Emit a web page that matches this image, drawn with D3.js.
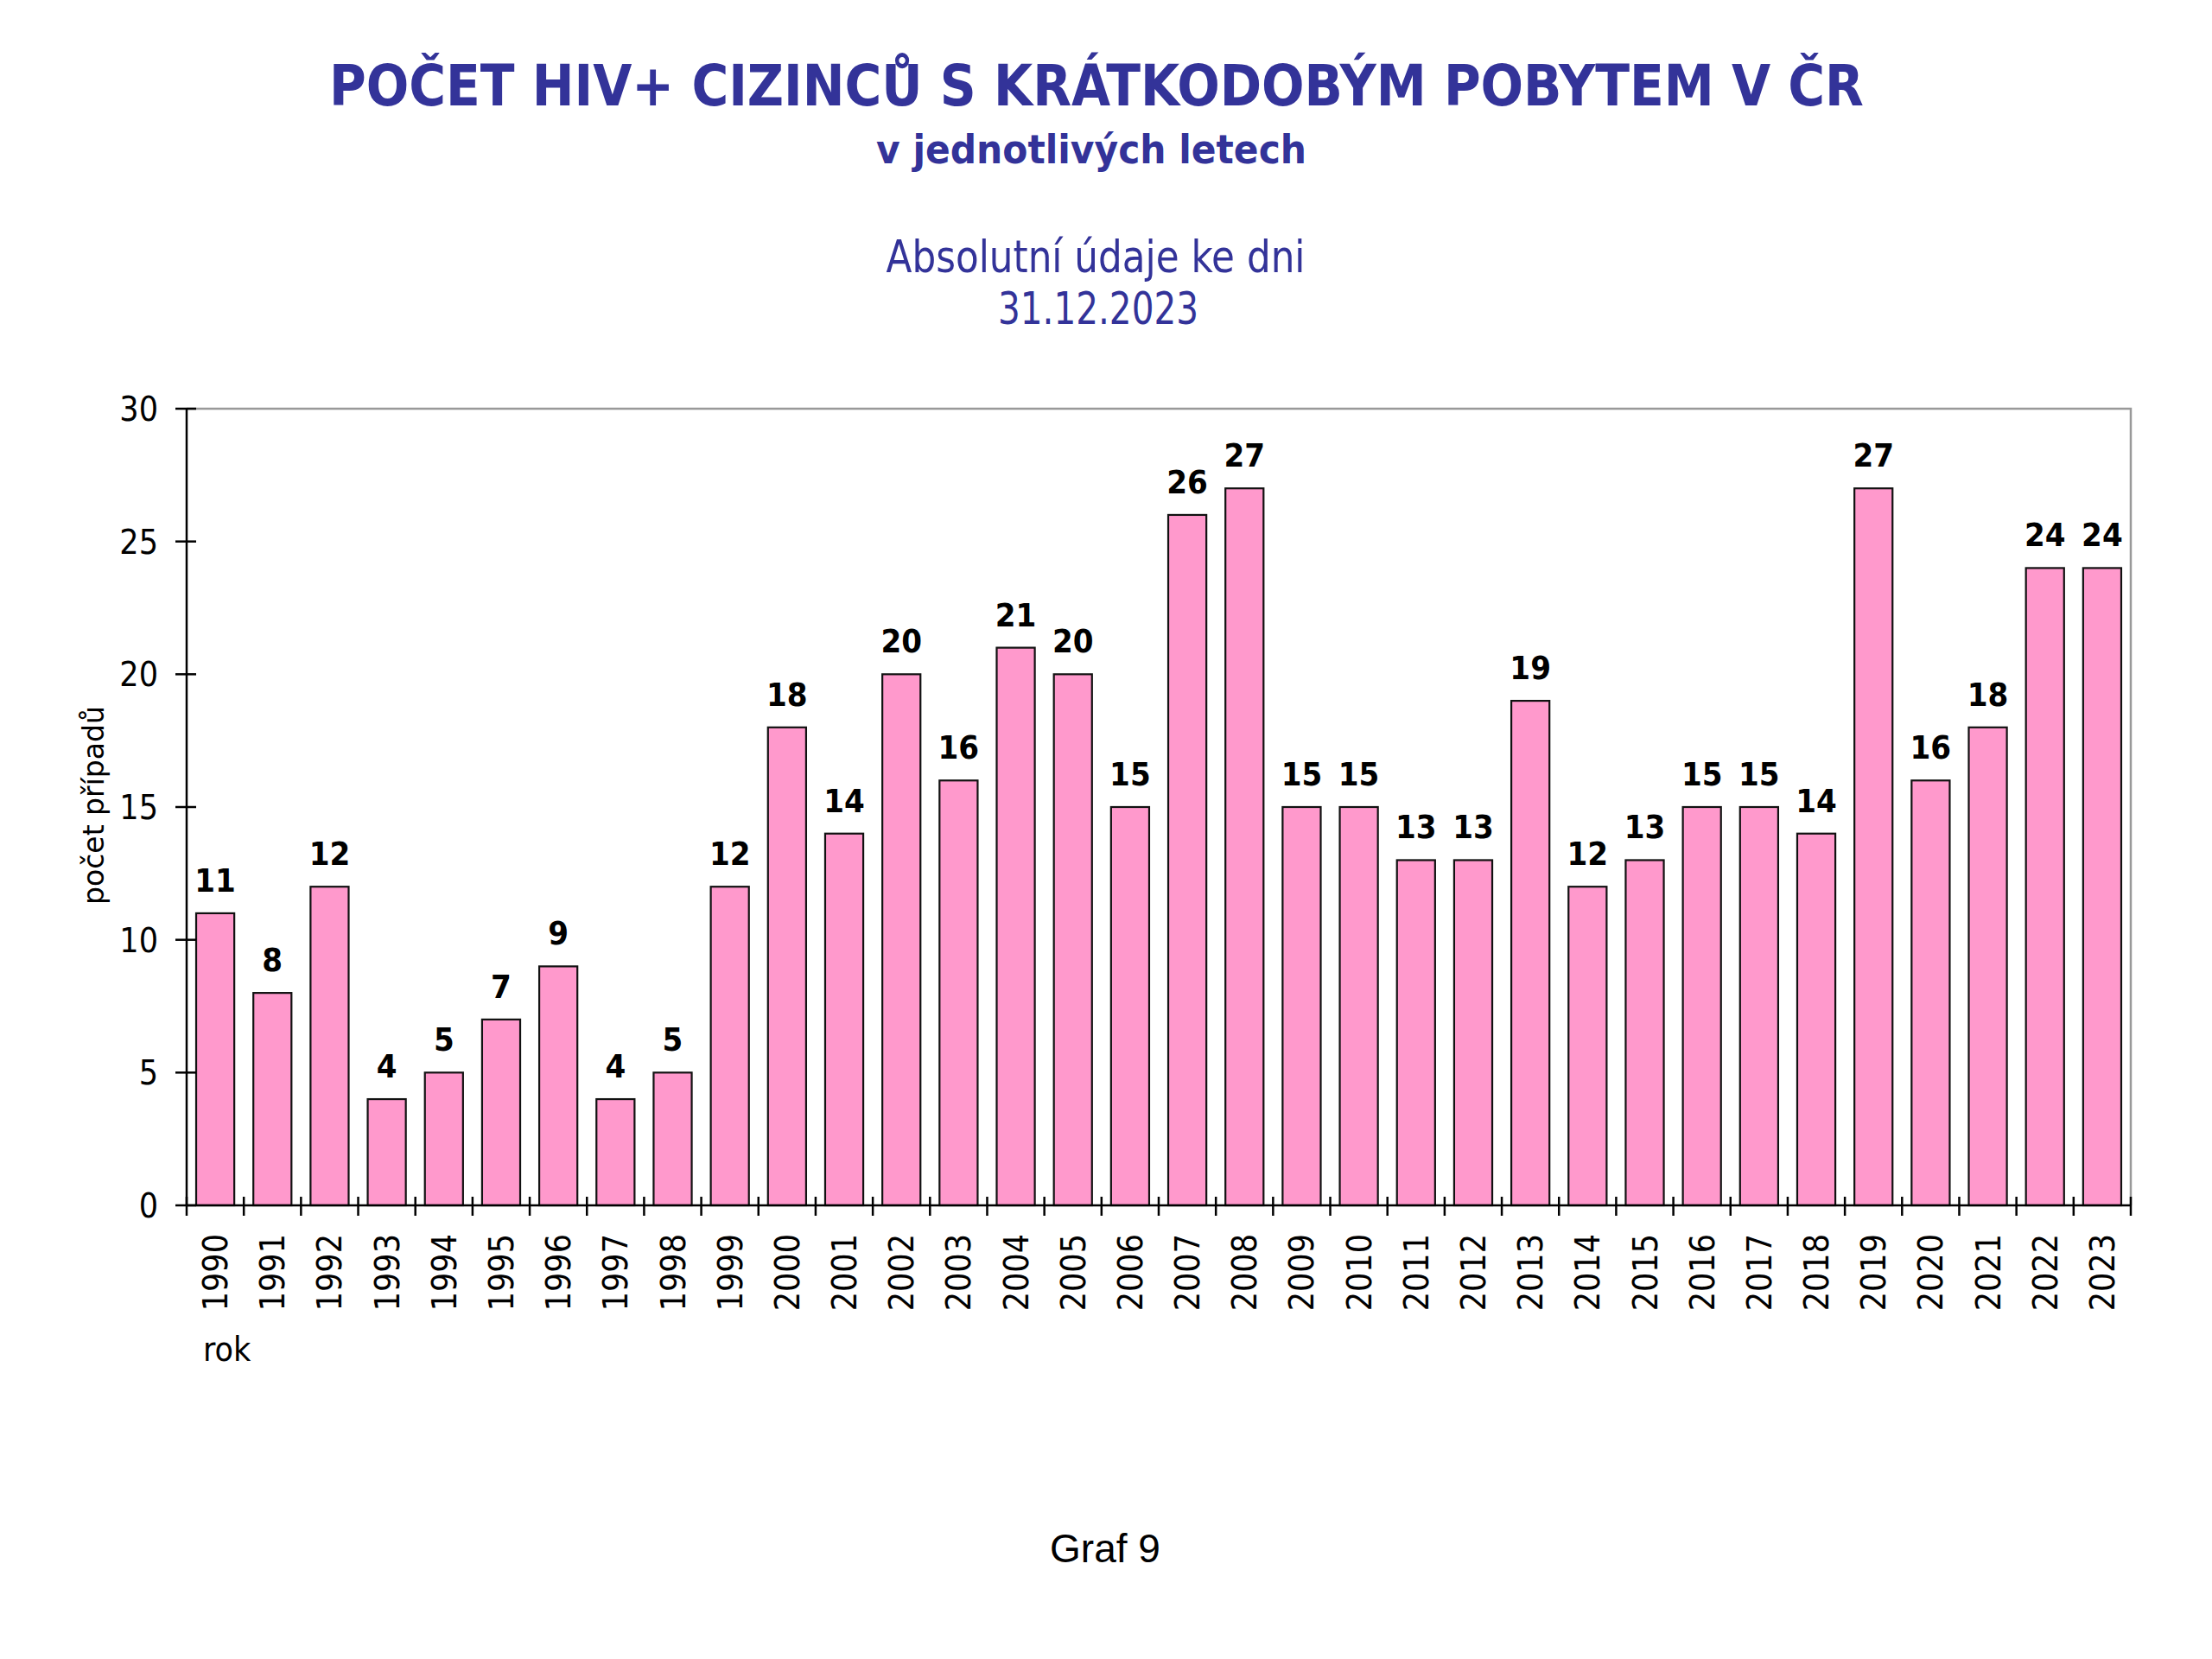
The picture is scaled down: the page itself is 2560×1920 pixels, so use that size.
<!DOCTYPE html>
<html><head><meta charset="utf-8">
<script src="https://cdn.jsdelivr.net/npm/d3@7"></script>
<style>
html,body{margin:0;padding:0;background:#fff;}
svg{display:block;}
</style></head>
<body>
<svg id="chart" width="2560" height="1920"></svg>
<script>
const years = ["1990","1991","1992","1993","1994","1995","1996","1997","1998","1999","2000","2001","2002","2003","2004","2005","2006","2007","2008","2009","2010","2011","2012","2013","2014","2015","2016","2017","2018","2019","2020","2021","2022","2023"];
const counts = [11,8,12,4,5,7,9,4,5,12,18,14,20,16,21,20,15,26,27,15,15,13,13,19,12,13,15,15,14,27,16,18,24,24];
const yTicks = [0,5,10,15,20,25,30];
const titleLines = ["POČET HIV+ CIZINCŮ S KRÁTKODOBÝM POBYTEM V ČR", "v jednotlivých letech"];
const subtitleLines = ["Absolutní údaje ke dni", "31.12.2023"];
const yTitle = "počet případů";
const xTitle = "rok";
const footer = "Graf 9";

const FONT = "'DejaVu Sans Condensed','DejaVu Sans',sans-serif";
const svg = d3.select("#chart");
const L = 216, R = 2466, T = 473, B = 1395;

const x = d3.scaleBand().domain(years).range([L, R]).paddingInner(1/3).paddingOuter(1/6);
const y = d3.scaleLinear().domain([0, 30]).range([B, T]);
const step = x.step();

// titles
const navy = "#333399";
svg.append("text").attr("x", 1269).attr("y", 122).attr("text-anchor", "middle")
  .attr("font-family", FONT).attr("font-weight", "bold").attr("font-size", 66).attr("fill", navy)
  .attr("textLength", 1776).attr("lengthAdjust", "spacingAndGlyphs").text(titleLines[0]);
svg.append("text").attr("x", 1263).attr("y", 189).attr("text-anchor", "middle")
  .attr("font-family", FONT).attr("font-weight", "bold").attr("font-size", 47).attr("fill", navy)
  .attr("textLength", 498).attr("lengthAdjust", "spacingAndGlyphs").text(titleLines[1]);
svg.append("text").attr("x", 1268).attr("y", 315).attr("text-anchor", "middle")
  .attr("font-family", FONT).attr("font-size", 51).attr("fill", navy)
  .attr("textLength", 485).attr("lengthAdjust", "spacingAndGlyphs").text(subtitleLines[0]);
svg.append("text").attr("x", 1271).attr("y", 375).attr("text-anchor", "middle")
  .attr("font-family", FONT).attr("font-size", 51).attr("fill", navy)
  .attr("textLength", 232).attr("lengthAdjust", "spacingAndGlyphs").text(subtitleLines[1]);

// plot frame (top & right gray)
svg.append("path").attr("d", `M${L},${T}H${R}V${B}`).attr("fill", "none").attr("stroke", "#999").attr("stroke-width", 2.5);

// bars
svg.append("g").selectAll("rect").data(years).join("rect")
  .attr("x", d => x(d)).attr("width", x.bandwidth())
  .attr("y", (d, i) => y(counts[i])).attr("height", (d, i) => B - y(counts[i]))
  .attr("fill", "#FF99CC").attr("stroke", "#111").attr("stroke-width", 2.2);

// data labels
svg.append("g").selectAll("text").data(years).join("text")
  .attr("x", d => x(d) + x.bandwidth() / 2).attr("y", (d, i) => y(counts[i]) - 25)
  .attr("text-anchor", "middle").attr("font-family", FONT).attr("font-weight", "bold")
  .attr("font-size", 38).attr("fill", "#000").text((d, i) => counts[i]);

// y axis
const yAxis = svg.append("g");
yAxis.append("line").attr("x1", L).attr("x2", L).attr("y1", T).attr("y2", B).attr("stroke", "#000").attr("stroke-width", 2.5);
yAxis.selectAll("line.t").data(yTicks).join("line").attr("class", "t")
  .attr("x1", L - 13).attr("x2", L + 11).attr("y1", d => y(d)).attr("y2", d => y(d))
  .attr("stroke", "#000").attr("stroke-width", 2.5);
yAxis.selectAll("text").data(yTicks).join("text")
  .attr("x", 183).attr("y", d => y(d)).attr("dy", "0.36em").attr("text-anchor", "end")
  .attr("font-family", FONT).attr("font-size", 39).attr("fill", "#000").text(d => d);

// x axis
const xAxis = svg.append("g");
xAxis.append("line").attr("x1", L).attr("x2", R).attr("y1", B).attr("y2", B).attr("stroke", "#000").attr("stroke-width", 2.5);
const bounds = years.map(d => x(d) + x.bandwidth() / 2 - step / 2).concat([R]);
xAxis.selectAll("line.t").data(bounds).join("line").attr("class", "t")
  .attr("x1", d => d).attr("x2", d => d).attr("y1", B - 10).attr("y2", B + 12)
  .attr("stroke", "#000").attr("stroke-width", 2.5);
xAxis.selectAll("text").data(years).join("text")
  .attr("transform", d => `translate(${x(d) + x.bandwidth() / 2},1428) rotate(-90)`)
  .attr("dy", "0.36em").attr("text-anchor", "end")
  .attr("font-family", FONT).attr("font-size", 39).attr("fill", "#000").text(d => d);

// axis titles
svg.append("text").attr("transform", "translate(120,932) rotate(-90)").attr("text-anchor", "middle")
  .attr("font-family", FONT).attr("font-size", 33).attr("fill", "#000")
  .attr("textLength", 230).attr("lengthAdjust", "spacingAndGlyphs").text(yTitle);
svg.append("text").attr("x", 235).attr("y", 1575)
  .attr("font-family", FONT).attr("font-size", 39).attr("fill", "#000").text(xTitle);

// footer
svg.append("text").attr("x", 1279).attr("y", 1808).attr("text-anchor", "middle")
  .attr("font-family", "'Liberation Sans',Arial,sans-serif").attr("font-size", 46).attr("fill", "#000").text(footer);
</script>
</body></html>
